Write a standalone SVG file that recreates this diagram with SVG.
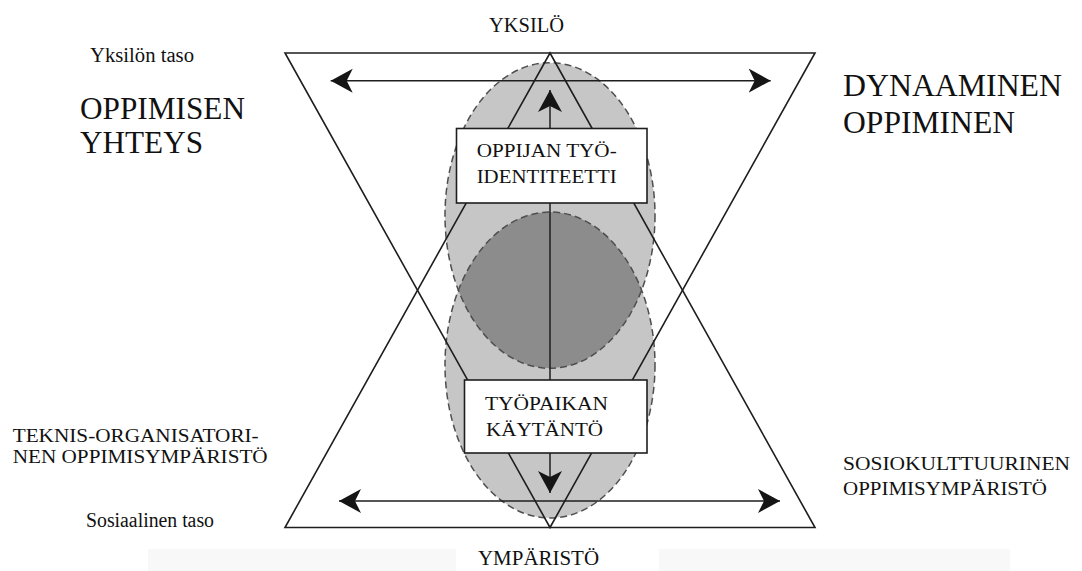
<svg xmlns="http://www.w3.org/2000/svg" width="1082" height="571" viewBox="0 0 1082 571">
<style>
  .t { font-family: "Liberation Serif", "Times New Roman", serif; fill: #111; }
  .edge { fill: none; stroke: #1e1e1e; stroke-width: 1.6; stroke-linejoin: miter; }
  .arr { fill: none; stroke: #1e1e1e; stroke-width: 1.5; }
  .ell { fill: #c6c6c6; }
  .dash { fill: none; stroke: #4e4e4e; stroke-width: 1.5; stroke-dasharray: 7 4; }
  .box { fill: #ffffff; stroke: #1e1e1e; stroke-width: 1.6; }
</style>
<defs>
  <marker id="ah" markerUnits="userSpaceOnUse" markerWidth="26" markerHeight="28" refX="22" refY="13" orient="auto-start-reverse" viewBox="0 0 26 28">
    <path d="M22,13 L0,1 L6,13 L0,25 Z" fill="#151515"/>
  </marker>
  <clipPath id="upperClip">
    <ellipse cx="550" cy="215.5" rx="105" ry="152.8"/>
  </clipPath>
</defs>
<rect x="0" y="0" width="1082" height="571" fill="#ffffff"/>
<rect x="148" y="549" width="862" height="22" fill="#f8f8f8"/>
<rect x="456" y="549" width="203" height="22" fill="#ffffff"/>

<g id="ellipses">
  <ellipse class="ell" cx="550" cy="215.5" rx="105" ry="152.8"/>
  <ellipse class="ell" cx="550" cy="365" rx="105" ry="153"/>
  <ellipse cx="550" cy="365" rx="105" ry="153" fill="#8c8c8c" clip-path="url(#upperClip)"/>
  <ellipse class="dash" cx="550" cy="215.5" rx="105" ry="152.8"/>
  <ellipse class="dash" cx="550" cy="365" rx="105" ry="153"/>
</g>

<g id="triangles">
  <polygon class="edge" points="550,53 285,527.5 815,527.5"/>
  <polygon class="edge" points="285,53 815,53 550,527.5"/>
</g>

<g id="connectors">
  <line class="arr" x1="330.7" y1="80.7" x2="770.7" y2="80.7" marker-start="url(#ah)" marker-end="url(#ah)"/>
  <line class="arr" x1="339" y1="501" x2="780" y2="501" marker-start="url(#ah)" marker-end="url(#ah)"/>
  <line class="arr" x1="550" y1="90" x2="550" y2="493" marker-start="url(#ah)" marker-end="url(#ah)"/>
</g>

<g id="node-identity">
  <rect class="box" x="456.5" y="128.5" width="190.5" height="74.5"/>
  <text class="t" x="476.7" y="157" font-size="18.6" textLength="140" lengthAdjust="spacingAndGlyphs">OPPIJAN TYÖ-</text>
  <text class="t" x="476.7" y="183.3" font-size="18.6" textLength="140" lengthAdjust="spacingAndGlyphs">IDENTITEETTI</text>
</g>

<g id="node-practice">
  <rect class="box" x="464.5" y="380" width="182.5" height="73"/>
  <text class="t" x="485" y="410" font-size="18.6" textLength="123" lengthAdjust="spacingAndGlyphs">TYÖPAIKAN</text>
  <text class="t" x="486" y="435.5" font-size="18.6" textLength="117" lengthAdjust="spacingAndGlyphs">KÄYTÄNTÖ</text>
</g>

<g id="label-yksilo">
  <text class="t" x="489" y="31.5" font-size="20" textLength="75" lengthAdjust="spacingAndGlyphs">YKSILÖ</text>
</g>
<g id="label-ymparisto">
  <text class="t" x="478" y="564.5" font-size="20" textLength="121" lengthAdjust="spacingAndGlyphs">YMPÄRISTÖ</text>
</g>
<g id="label-yksilon-taso">
  <text class="t" x="90" y="62" font-size="20.5" textLength="104" lengthAdjust="spacingAndGlyphs">Yksilön taso</text>
</g>
<g id="label-oppimisen-yhteys">
  <text class="t" x="80" y="119" font-size="31" textLength="165" lengthAdjust="spacingAndGlyphs">OPPIMISEN</text>
  <text class="t" x="80" y="153" font-size="31" textLength="123" lengthAdjust="spacingAndGlyphs">YHTEYS</text>
</g>
<g id="label-dynaaminen">
  <text class="t" x="843" y="96" font-size="31.5" textLength="219" lengthAdjust="spacingAndGlyphs">DYNAAMINEN</text>
  <text class="t" x="843" y="132.7" font-size="31.5" textLength="172" lengthAdjust="spacingAndGlyphs">OPPIMINEN</text>
</g>
<g id="label-teknis">
  <text class="t" x="12.7" y="441.7" font-size="19" textLength="246" lengthAdjust="spacingAndGlyphs">TEKNIS-ORGANISATORI-</text>
  <text class="t" x="12.7" y="463.3" font-size="19" textLength="255" lengthAdjust="spacingAndGlyphs">NEN OPPIMISYMPÄRISTÖ</text>
</g>
<g id="label-sosiaalinen">
  <text class="t" x="86" y="527" font-size="20" textLength="128" lengthAdjust="spacingAndGlyphs">Sosiaalinen taso</text>
</g>
<g id="label-sosiokulttuurinen">
  <text class="t" x="843" y="470" font-size="18.5" textLength="227" lengthAdjust="spacingAndGlyphs">SOSIOKULTTUURINEN</text>
  <text class="t" x="843" y="495" font-size="18.5" textLength="204" lengthAdjust="spacingAndGlyphs">OPPIMISYMPÄRISTÖ</text>
</g>
</svg>
